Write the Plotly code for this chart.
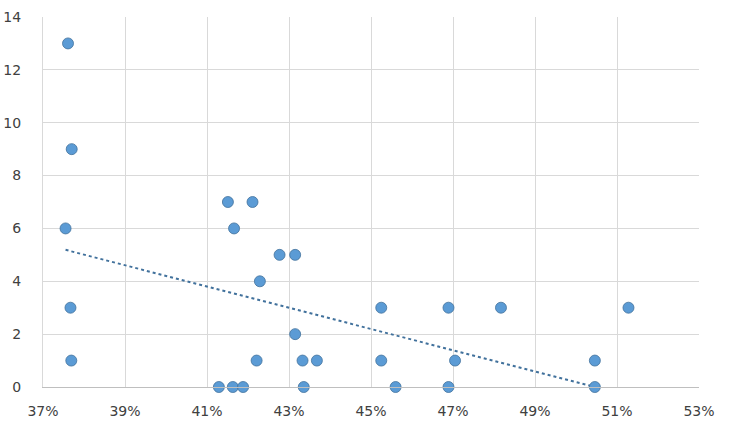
import plotly.graph_objects as go

x_pct = [37.61, 37.70, 37.55, 37.67, 37.69,
         41.29, 41.63, 41.88, 41.51, 42.11, 41.66, 42.77, 43.15, 42.29,
         45.25, 43.15, 42.21, 43.33, 43.68, 45.25, 43.36, 45.60,
         46.89, 48.17, 47.05, 46.89, 51.28, 50.46, 50.46]
y_vals = [13, 9, 6, 3, 1,
          0, 0, 0, 7, 7, 6, 5, 5, 4,
          3, 2, 1, 1, 1, 1, 0, 0,
          3, 3, 1, 0, 3, 1, 0]
# linear trendline (as drawn in the source), from min to max x
trend_x_pct = [37.55, 51.28]
trend_y = [5.19, -0.33]
x_ticks = [37, 39, 41, 43, 45, 47, 49, 51, 53]
y_ticks = [0, 2, 4, 6, 8, 10, 12, 14]

xs = [v / 100 for v in x_pct]
tx = [v / 100 for v in trend_x_pct]

fig = go.Figure()
fig.add_trace(go.Scatter(
    x=tx, y=trend_y, mode="lines",
    line=dict(color="#41719C", width=2, dash="dot"),
    showlegend=False, hoverinfo="skip"))
fig.add_trace(go.Scatter(
    x=xs, y=y_vals, mode="markers",
    marker=dict(size=11, color="#5B9BD5", line=dict(color="#41719C", width=0.8)),
    showlegend=False, hoverinfo="skip", cliponaxis=False))

fig.update_layout(
    width=730, height=429,
    margin=dict(l=43, r=31, t=17, b=42),
    paper_bgcolor="white", plot_bgcolor="white",
    font=dict(family="DejaVu Sans", size=14, color="#404040"),
)
fig.update_xaxes(
    range=[0.37, 0.53], tickvals=[v / 100 for v in x_ticks],
    ticktext=[f"{v}%" for v in x_ticks],
    showgrid=True, gridcolor="#D9D9D9", gridwidth=1,
    showline=True, linecolor="#BFBFBF", linewidth=1, mirror=False,
    zeroline=False, ticks="", ticklabelstandoff=11, automargin=False,
)
fig.update_yaxes(
    range=[0, 14], tickvals=y_ticks,
    showgrid=True, gridcolor="#D9D9D9", gridwidth=1,
    showline=True, linecolor="#D9D9D9", linewidth=1,
    zeroline=False, ticks="", ticklabelstandoff=18, automargin=False,
)
fig.write_html(
    "out.html",
    config={"displayModeBar": False},
    post_script="document.body.style.margin='0';document.body.style.overflow='hidden';",
)
